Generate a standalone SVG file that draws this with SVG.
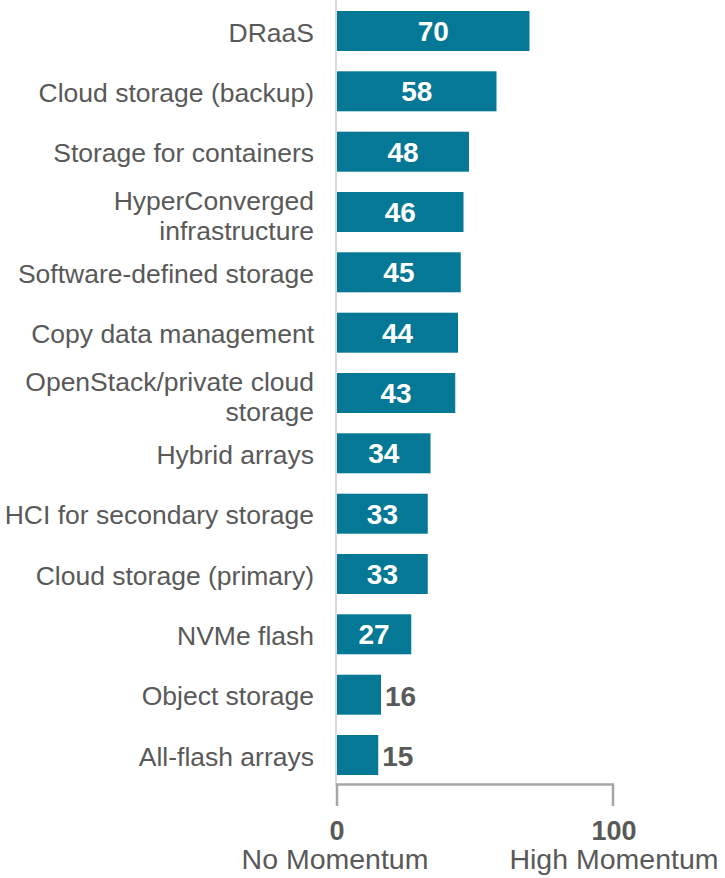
<svg xmlns="http://www.w3.org/2000/svg" width="725" height="878" viewBox="0 0 725 878">
  <style>
    .lbl { font-family: "Liberation Sans", Arial, sans-serif; font-size: 26.5px; fill: #595959; text-anchor: end; }
    .bar { fill: #047895; }
    .val { font-family: "Liberation Sans", Arial, sans-serif; font-size: 28px; font-weight: bold; fill: #ffffff; text-anchor: middle; }
    .out { font-family: "Liberation Sans", Arial, sans-serif; font-size: 28px; font-weight: bold; fill: #595959; text-anchor: start; }
    .tick { font-family: "Liberation Sans", Arial, sans-serif; font-size: 27px; font-weight: bold; fill: #595959; text-anchor: middle; }
    .cap { font-family: "Liberation Sans", Arial, sans-serif; font-size: 28.5px; fill: #595959; text-anchor: middle; }
  </style>

  <!-- axes: category axis and the 0–100 scale bracket -->
  <g id="connectors">
    <line x1="336" y1="0" x2="336" y2="785" stroke="#d9d9d9" stroke-width="2"/>
    <path d="M337 806 V784.5 H613 V806" fill="none" stroke="#a6a6a6" stroke-width="2.5"/>
  </g>

  <!-- one row per technology: label, bar (scale 2.75 px per point), value -->
  <g id="row-draas">
    <text class="lbl" x="314" y="41.5">DRaaS</text>
    <rect class="bar" x="337" y="11" width="192.5" height="40"/>
    <text class="val" x="433.3" y="41">70</text>
  </g>
  <g id="row-cloud-backup">
    <text class="lbl" x="314" y="101.8">Cloud storage (backup)</text>
    <rect class="bar" x="337" y="71.3" width="159.5" height="40"/>
    <text class="val" x="416.8" y="101.3">58</text>
  </g>
  <g id="row-containers">
    <text class="lbl" x="314" y="162.2">Storage for containers</text>
    <rect class="bar" x="337" y="131.7" width="132" height="40"/>
    <text class="val" x="403" y="161.7">48</text>
  </g>
  <g id="row-hci">
    <text class="lbl" x="314" y="209.5">HyperConverged</text>
    <text class="lbl" x="314" y="240">infrastructure</text>
    <rect class="bar" x="337" y="192" width="126.5" height="40"/>
    <text class="val" x="400.3" y="222">46</text>
  </g>
  <g id="row-sds">
    <text class="lbl" x="314" y="282.8">Software-defined storage</text>
    <rect class="bar" x="337" y="252.3" width="123.75" height="40"/>
    <text class="val" x="398.9" y="282.3">45</text>
  </g>
  <g id="row-copy-data">
    <text class="lbl" x="314" y="343.2">Copy data management</text>
    <rect class="bar" x="337" y="312.7" width="121" height="40"/>
    <text class="val" x="397.5" y="342.7">44</text>
  </g>
  <g id="row-openstack">
    <text class="lbl" x="314" y="390.5">OpenStack/private cloud</text>
    <text class="lbl" x="314" y="421">storage</text>
    <rect class="bar" x="337" y="373" width="118.25" height="40"/>
    <text class="val" x="396.1" y="403">43</text>
  </g>
  <g id="row-hybrid">
    <text class="lbl" x="314" y="463.8">Hybrid arrays</text>
    <rect class="bar" x="337" y="433.3" width="93.5" height="40"/>
    <text class="val" x="383.8" y="463.3">34</text>
  </g>
  <g id="row-hci-secondary">
    <text class="lbl" x="314" y="524.2">HCI for secondary storage</text>
    <rect class="bar" x="337" y="493.7" width="90.75" height="40"/>
    <text class="val" x="382.4" y="523.7">33</text>
  </g>
  <g id="row-cloud-primary">
    <text class="lbl" x="314" y="584.5">Cloud storage (primary)</text>
    <rect class="bar" x="337" y="554" width="90.75" height="40"/>
    <text class="val" x="382.4" y="584">33</text>
  </g>
  <g id="row-nvme">
    <text class="lbl" x="314" y="644.8">NVMe flash</text>
    <rect class="bar" x="337" y="614.3" width="74.25" height="40"/>
    <text class="val" x="374.1" y="644.3">27</text>
  </g>
  <g id="row-object">
    <text class="lbl" x="314" y="705.2">Object storage</text>
    <rect class="bar" x="337" y="674.7" width="44" height="40"/>
    <text class="out" x="385" y="706">16</text>
  </g>
  <g id="row-all-flash">
    <text class="lbl" x="314" y="765.5">All-flash arrays</text>
    <rect class="bar" x="337" y="735" width="41.25" height="40"/>
    <text class="out" x="382.3" y="766">15</text>
  </g>

  <!-- scale end labels -->
  <g id="scale-min">
    <text class="tick" x="337" y="839.5">0</text>
    <text class="cap" x="335" y="869">No Momentum</text>
  </g>
  <g id="scale-max">
    <text class="tick" x="614" y="839.5">100</text>
    <text class="cap" x="614" y="869">High Momentum</text>
  </g>
</svg>
